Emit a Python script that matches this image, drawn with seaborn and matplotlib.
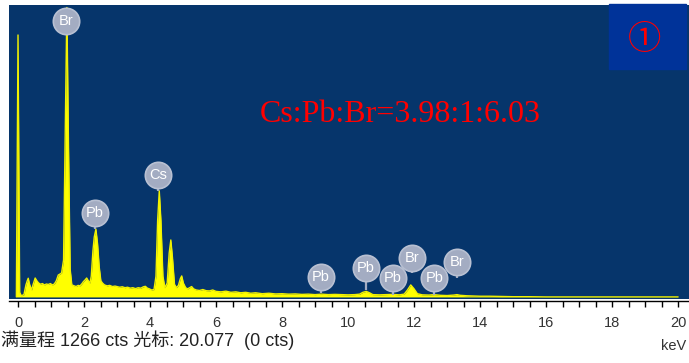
import matplotlib
matplotlib.use("Agg")
import matplotlib.pyplot as plt
import pandas as pd
import seaborn as sns
from matplotlib.ticker import MultipleLocator

# EDS spectrum: energy (keV) and counts
energy_kev = [
    -0.05, 0.00, 0.05, 0.10, 0.18, 0.24, 0.28, 0.31, 0.35, 0.41, 0.46, 0.52,
    0.57, 0.62, 0.68, 0.74, 0.80, 0.86, 0.92, 0.98, 1.04, 1.10, 1.16, 1.22,
    1.28, 1.32, 1.38, 1.43, 1.48, 1.53, 1.58, 1.63, 1.70, 1.76, 1.82, 1.88,
    1.94, 1.98, 2.04, 2.08, 2.13, 2.18, 2.22, 2.27, 2.31, 2.36, 2.41, 2.46,
    2.51, 2.56, 2.62, 2.70, 2.78, 2.86, 2.94, 3.00, 3.08, 3.16, 3.24, 3.32,
    3.40, 3.48, 3.56, 3.64, 3.72, 3.80, 3.86, 3.92, 3.98, 4.05, 4.12, 4.18,
    4.23, 4.28, 4.33, 4.39, 4.45, 4.52, 4.58, 4.63, 4.68, 4.74, 4.80, 4.86,
    4.92, 4.96, 5.01, 5.08, 5.14, 5.20, 5.26, 5.32, 5.40, 5.50, 5.60, 5.70,
    5.80, 5.90, 6.00, 6.15, 6.30, 6.45, 6.60, 6.75, 6.90, 7.05, 7.20, 7.40,
    7.60, 7.80, 8.00, 8.20, 8.40, 8.60, 8.80, 9.00, 9.20, 9.40, 9.60, 9.80,
    10.00, 10.20, 10.35, 10.45, 10.55, 10.65, 10.75, 10.95, 11.15, 11.35,
    11.55, 11.70, 11.80, 11.90, 12.00, 12.10, 12.25, 12.45, 12.60, 12.80,
    13.00, 13.20, 13.30, 13.40, 13.60, 13.80, 14.00, 14.30, 14.60, 15.00,
    15.50, 16.00, 20.00,
]
counts = [
    0, 1136, 20, 5, 10, 52, 70, 81, 55, 30, 55, 82,
    70, 61, 55, 58, 52, 56, 54, 58, 52, 56, 70, 95,
    100, 104, 160, 700, 1255, 650, 120, 52, 48, 45, 50, 48,
    58, 66, 75, 82, 70, 60, 90, 200, 260, 294, 230, 130,
    70, 60, 52, 48, 50, 45, 47, 45, 42, 44, 40, 42,
    38, 40, 36, 40, 38, 44, 46, 38, 35, 30, 32, 90,
    330, 460, 330, 90, 40, 60, 190, 247, 170, 55, 40, 50,
    80, 91, 60, 40, 35, 40, 45, 35, 30, 28, 32, 27,
    26, 30, 24, 22, 25, 20, 22, 18, 20, 16, 18, 14,
    16, 13, 14, 12, 13, 11, 12, 10, 12, 10, 11, 10,
    9, 10, 12, 20, 24, 18, 10, 9, 10, 11,
    9, 12, 30, 52, 35, 14, 9, 8, 10, 7,
    6, 8, 10, 7, 5, 4, 3, 3, 2, 1,
    1, 0, 0,
]

# Peak identification tags
peak_elements = ["Br", "Pb", "Cs", "Pb", "Pb", "Pb", "Br", "Pb", "Br"]
peak_kev = [1.46, 2.33, 4.25, 9.17, 10.54, 11.35, 11.93, 12.61, 13.29]
tag_cts = [1195, 363, 529, 88, 124, 81, 168, 81, 150]
stem_end_cts = [1195, 294, 460, 18, 30, 9, 104, 9, 82]

x_ticks = [0, 2, 4, 6, 8, 10, 12, 14, 16, 18, 20]
full_scale_cts = 1266
cursor_kev = 20.077
cursor_cts = 0
ratio_text = "Cs:Pb:Br=3.98:1:6.03"
panel_tag = "①"

spectrum = pd.DataFrame({"energy": energy_kev, "counts": counts})
tags = pd.DataFrame({"element": peak_elements, "energy": peak_kev,
                     "tag": tag_cts, "stem": stem_end_cts})

sns.set_theme(style="white")
plt.rcParams["font.family"] = ["Liberation Sans", "Noto Sans CJK SC", "DejaVu Sans"]

navy = "#06356B"
fig = plt.figure(figsize=(6.89, 3.63), dpi=100)
fig.patch.set_facecolor("white")
ax = fig.add_axes([9 / 689, 64 / 363, 680 / 689, 294 / 363])
ax.set_facecolor(navy)

ax.fill_between(spectrum["energy"], 0, spectrum["counts"], color="#FFFF00",
                linewidth=0, zorder=2)
sns.lineplot(data=spectrum, x="energy", y="counts", ax=ax, color="#F2F200",
             linewidth=1.0, zorder=3, sort=False)

# tags with stems
ax.vlines(tags["energy"], tags["stem"], tags["tag"], color="#A3ACC2",
          linewidth=1.6, zorder=4)
sns.scatterplot(data=tags, x="energy", y="tag", ax=ax, s=360, color="#A3ACC2",
                edgecolor="#B8C0D2", linewidth=1.2, zorder=5, legend=False)
for el, e, t in zip(tags["element"], tags["energy"], tags["tag"]):
    ax.text(e, t, el, color="white", fontsize=10.5, ha="center", va="center",
            zorder=6)

ax.set_xlim(-0.273, 20.33)
ax.set_ylim(-9, full_scale_cts)
ax.set_xlabel("")
ax.set_ylabel("")
ax.set_yticks([])
ax.set_xticks(x_ticks)
ax.set_xticklabels([str(t) for t in x_ticks])
ax.xaxis.set_minor_locator(MultipleLocator(0.5))
ax.tick_params(axis="x", which="both", direction="out", length=4, width=1.0,
               color="black", bottom=True, labelsize=10.5, labelcolor="#333333",
               pad=7)
for side in ["top", "left", "right"]:
    ax.spines[side].set_visible(False)
ax.spines["bottom"].set_color("black")
ax.spines["bottom"].set_linewidth(1.0)
ax.spines["bottom"].set_position(("outward", 1.5))

ax.text(7.33, 789, ratio_text, color="#FF0000", fontsize=23,
        family="Liberation Serif", ha="left", va="center", zorder=6)

# numbered panel tag
fig.patches.append(plt.Rectangle((609 / 689, 1 - 69 / 363), 77 / 689, 65 / 363,
                                 transform=fig.transFigure, color="#003399",
                                 zorder=5))
fig.text(645 / 689, 1 - 40 / 363, panel_tag, color="#FF0000", fontsize=24,
         family=["Noto Sans CJK SC", "DejaVu Sans"], ha="center", va="center",
         zorder=6)

fig.text(1 / 689, 1 - 340 / 363,
         f"满量程 {full_scale_cts} cts 光标: {cursor_kev:.3f}  ({cursor_cts} cts)",
         fontsize=13, color="#222222", ha="left", va="center")
fig.text(686 / 689, 1 - 346 / 363, "keV", fontsize=10.5, color="#333333",
         ha="right", va="center")

fig.savefig("out.png", dpi=100, facecolor="white")
